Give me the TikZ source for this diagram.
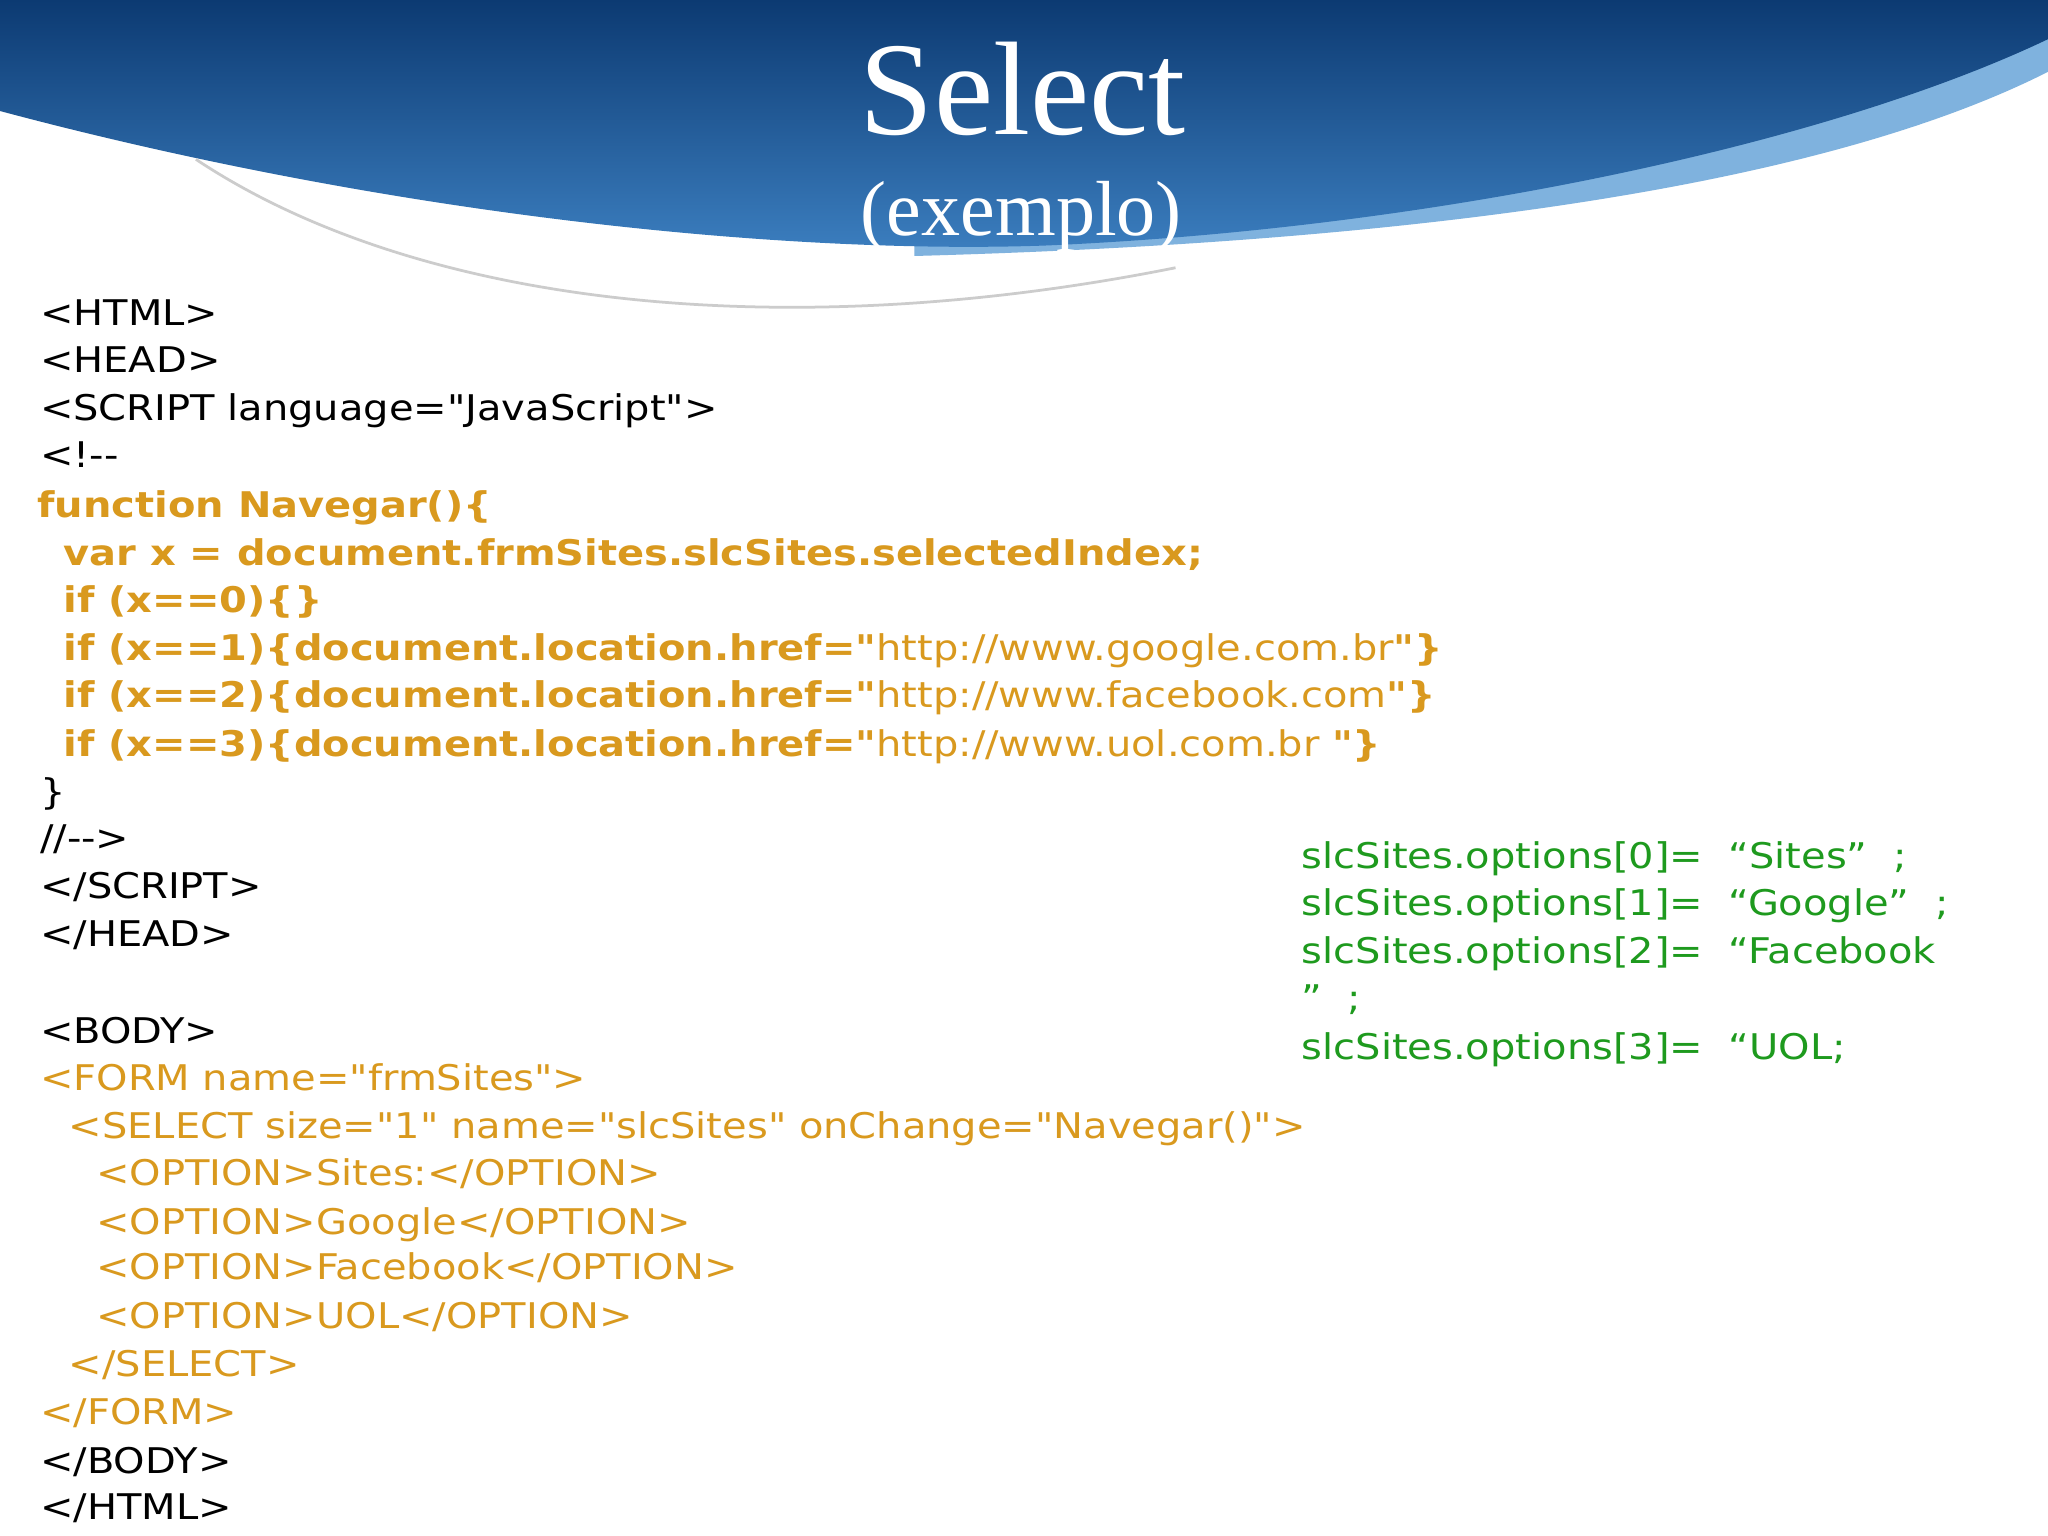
\documentclass[tikz,border=0pt]{standalone}
\usepackage{fontspec}
\setmainfont{DejaVu Sans}[FakeStretch=1.13,Ligatures=TeXOff]
\newfontfamily\titlefont{Liberation Serif}
\definecolor{codeor}{HTML}{D9991E}
\definecolor{codegr}{HTML}{1E9A1E}
\definecolor{hdark}{HTML}{0C3A72}
\definecolor{hlight}{HTML}{3C7FC0}
\definecolor{hband}{HTML}{7FB2DE}
\begin{document}
\begin{tikzpicture}[x=0.01cm,y=-0.01cm,
  code/.style={anchor=base west,inner sep=0pt,font=\fontsize{7.7pt}{9pt}\selectfont},
  orc/.style={code,text=codeor},
  grc/.style={code,text=codegr}]
\useasboundingbox (0,0) rectangle (1568,1176);
\fill[white] (0,0) rectangle (1568,1176);
% header band
\fill[hband] (700,196) .. controls (1100,185) and (1400,140) .. (1568,55) -- (1568,20) -- (700,170) -- cycle;
\shade[top color=hdark,bottom color=hlight] (0,0) -- (0,85) .. controls (300,165) and (600,195) .. (800,188) .. controls (1100,175) and (1400,110) .. (1568,30) -- (1568,0) -- cycle;
\draw[gray!40,line width=0.6pt] (150,122) .. controls (320,235) and (600,265) .. (900,205);
\node[text=white,font=\titlefont\fontsize{29pt}{32pt}\selectfont,anchor=base] (t1) at (783,103) {Select};
\node[text=white,font=\titlefont\fontsize{17pt}{20pt}\selectfont,anchor=base] (t2) at (782,180) {(exemplo)};
% code
\node[code] (l1) at (30,249) {<HTML>};
\node[code] (l2) at (30,285) {<HEAD>};
\node[code] (l3) at (30,322) {<SCRIPT language="JavaScript">};
\node[code] (l4) at (30,358) {<!--};
\node[orc] (l5) at (28,396) {\bfseries function Navegar()\{};
\node[orc] (l6) at (48,433) {\bfseries var x = document.frmSites.slcSites.selectedIndex;};
\node[orc] (l7) at (48,469) {\bfseries if (x==0)\{\}};
\node[orc] (l8) at (48,506) {\textbf{if (x==1)\{document.location.href="}http://www.google.com.br\textbf{"\}}};
\node[orc] (l9) at (48,542) {\textbf{if (x==2)\{document.location.href="}http://www.facebook.com\textbf{"\}}};
\node[orc] (l10) at (48,579) {\textbf{if (x==3)\{document.location.href="}http://www.uol.com.br \textbf{"\}}};
\node[code] (l11) at (30,616) {\}};
\node[code] (l12) at (30,651) {//-->};
\node[code] (l13) at (30,688) {</SCRIPT>};
\node[code] (l14) at (30,725) {</HEAD>};
\node[code] (l15) at (30,799) {<BODY>};
\node[orc] (l16) at (30,835) {<FORM name="frmSites">};
\node[orc] (l17) at (52,872) {<SELECT size="1" name="slcSites" onChange="Navegar()">};
\node[orc] (l18) at (73,908) {<OPTION>Sites:</OPTION>};
\node[orc] (l19) at (73,945) {<OPTION>Google</OPTION>};
\node[orc] (l20) at (73,980) {<OPTION>Facebook</OPTION>};
\node[orc] (l21) at (73,1017) {<OPTION>UOL</OPTION>};
\node[orc] (l22) at (52,1054) {</SELECT>};
\node[orc] (l23) at (30,1091) {</FORM>};
\node[code] (l24) at (30,1128) {</BODY>};
\node[code] (l25) at (30,1163) {</HTML>};
% right
\node[grc] (r1) at (996,665) {slcSites.options[0]=\ \ “Sites”\ \ ;};
\node[grc] (r2) at (996,701) {slcSites.options[1]=\ \ “Google”\ \ ;};
\node[grc] (r3) at (996,738) {slcSites.options[2]=\ \ “Facebook};
\node[grc] (r4) at (996,774) {”\ \ ;};
\node[grc] (r5) at (996,811) {slcSites.options[3]=\ \ “UOL;};
\end{tikzpicture}
\end{document}
